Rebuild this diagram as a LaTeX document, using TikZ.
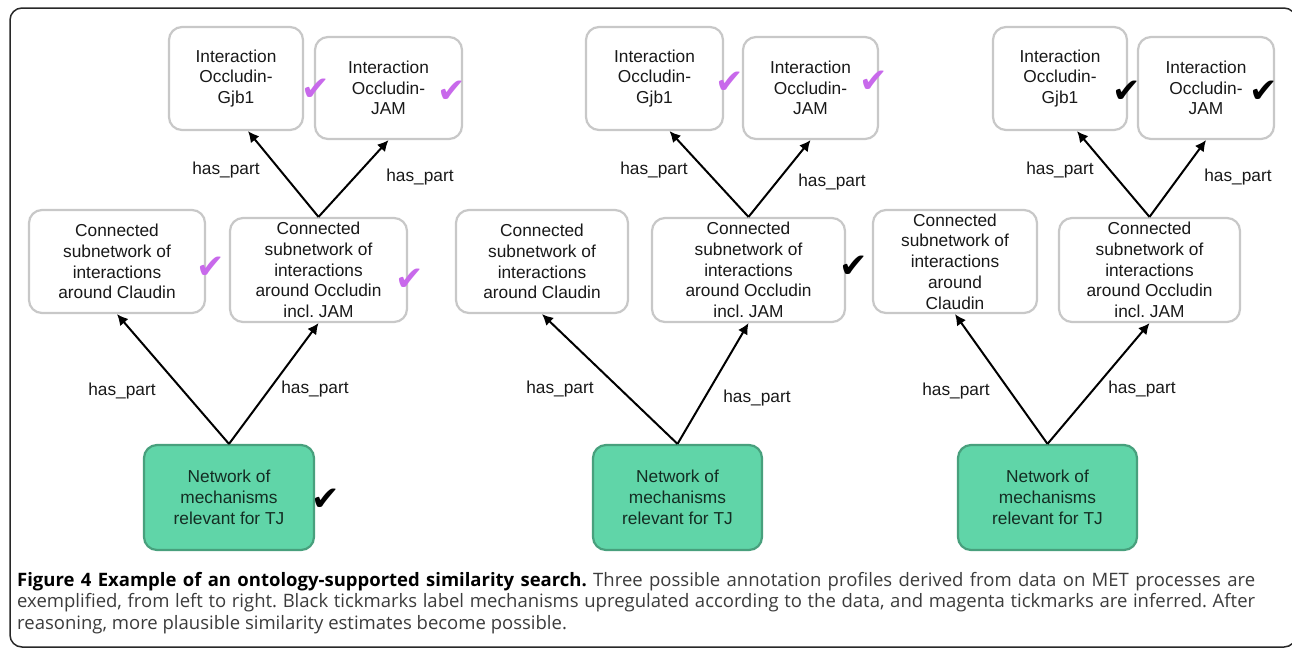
\documentclass[tikz,border=0pt]{standalone}
\usepackage{fontspec}
\setmainfont{Liberation Sans}
\newfontfamily\capfont{Open Sans}
\newfontfamily\tickfont{DejaVu Sans}
\usetikzlibrary{arrows.meta}
\definecolor{boxgray}{RGB}{200,200,200}
\definecolor{tjfill}{RGB}{96,213,168}
\definecolor{tjdraw}{RGB}{72,160,125}
\definecolor{tjtext}{RGB}{20,45,35}
\definecolor{tickmag}{RGB}{200,105,235}
\definecolor{txt}{RGB}{25,25,25}
\definecolor{captxt}{RGB}{60,60,60}
\definecolor{framecol}{RGB}{40,40,40}
\frenchspacing
\begin{document}
\begin{tikzpicture}[x=1pt,y=-1pt,
  every node/.style={inner sep=0pt},
  wbox/.style={draw=boxgray, line width=2.2pt, rounded corners=13pt, fill=white, align=center, text=txt, font=\fontsize{17.3}{20.8}\selectfont},
  gbox/.style={wbox, draw=tjdraw, fill=tjfill, text=tjtext},
  lbl/.style={text=txt, font=\fontsize{17.3}{20.8}\selectfont},
  arr/.style={line width=2pt, -{Latex[length=11pt,width=11pt]}},
  tickm/.style={text=tickmag, font=\tickfont\fontsize{34}{34}\selectfont},
  tickb/.style={tickm, text=black},
  capline/.style={anchor=base west, text=captxt, font=\capfont\fontsize{18.5}{21}\selectfont},
]
\useasboundingbox (0,0) rectangle (1292,649);
\fill[white] (0,0) rectangle (1292,649);
\draw[line width=1.5pt, draw=framecol, rounded corners=12pt] (10,8) rectangle (1296,647);

% ---------- panel 1 ----------
\node[wbox, minimum width=134pt, minimum height=103pt] (g1) at (236,78.5) {Interaction\\Occludin-\\Gjb1};
\node[wbox, minimum width=147pt, minimum height=102pt] (j1) at (388.5,88) {Interaction\\Occludin-\\JAM};
\node[wbox, minimum width=176pt, minimum height=103pt] (c1) at (117,261.5) {Connected\\subnetwork of\\interactions\\around Claudin};
\node[wbox, minimum width=177pt, minimum height=104pt] (o1) at (318.5,270) {Connected\\subnetwork of\\interactions\\around Occludin\\incl. JAM};
\node[gbox, minimum width=170pt, minimum height=105pt] (t1) at (229,497.5) {Network of\\mechanisms\\relevant for TJ};

\draw[arr] (t1.north) -- (c1.south);
\draw[arr] (t1.north) -- (o1.south);
\draw[arr] (o1.north) -- ([xshift=12pt]g1.south);
\draw[arr] (o1.north) -- (j1.south);

\node[lbl] (l1a) at (226,170) {has\_part};
\node[lbl] (l1b) at (420,177) {has\_part};
\node[lbl] (l1c) at (122,391) {has\_part};
\node[lbl] (l1d) at (315,389) {has\_part};

\node[tickm] (k1a) at (316,90) {✔};
\node[tickm] (k1b) at (452,92) {✔};
\node[tickm] (k1c) at (211,268) {✔};
\node[tickm] (k1d) at (410,280) {✔};
\node[tickb] (k1e) at (326,500) {✔};

% ---------- panel 2 ----------
\node[wbox, minimum width=137pt, minimum height=103pt] (g2) at (654.5,78.5) {Interaction\\Occludin-\\Gjb1};
\node[wbox, minimum width=135pt, minimum height=102pt] (j2) at (810.5,88) {Interaction\\Occludin-\\JAM};
\node[wbox, minimum width=172pt, minimum height=103pt] (c2) at (542,261.5) {Connected\\subnetwork of\\interactions\\around Claudin};
\node[wbox, minimum width=193pt, minimum height=104pt] (o2) at (748.5,270) {Connected\\subnetwork of\\interactions\\around Occludin\\incl. JAM};
\node[gbox, minimum width=169pt, minimum height=105pt] (t2) at (677.5,497.5) {Network of\\mechanisms\\relevant for TJ};

\draw[arr] (t2.north) -- (c2.south);
\draw[arr] (t2.north) -- (o2.south);
\draw[arr] (o2.north) -- ([xshift=15pt]g2.south);
\draw[arr] (o2.north) -- (j2.south);

\node[lbl] (l2a) at (654,170) {has\_part};
\node[lbl] (l2b) at (832,182) {has\_part};
\node[lbl] (l2c) at (560,389) {has\_part};
\node[lbl] (l2d) at (757,398) {has\_part};

\node[tickm] (k2a) at (730,83) {✔};
\node[tickm] (k2b) at (874,82) {✔};
\node[tickb] (k2c) at (854,267) {✔};

% ---------- panel 3 ----------
\node[wbox, minimum width=134pt, minimum height=103pt] (g3) at (1060,78.5) {Interaction\\Occludin-\\Gjb1};
\node[wbox, minimum width=136pt, minimum height=102pt] (j3) at (1206,88) {Interaction\\Occludin-\\JAM};
\node[wbox, minimum width=164pt, minimum height=103pt] (c3) at (955,261.5) {Connected\\subnetwork of\\interactions\\around\\Claudin};
\node[wbox, minimum width=181pt, minimum height=104pt] (o3) at (1149.5,270) {Connected\\subnetwork of\\interactions\\around Occludin\\incl. JAM};
\node[gbox, minimum width=179pt, minimum height=105pt] (t3) at (1047.5,497.5) {Network of\\mechanisms\\relevant for TJ};

\draw[arr] (t3.north) -- (c3.south);
\draw[arr] (t3.north) -- (o3.south);
\draw[arr] (o3.north) -- ([xshift=17pt]g3.south);
\draw[arr] (o3.north) -- (j3.south);

\node[lbl] (l3a) at (1060,170) {has\_part};
\node[lbl] (l3b) at (1238,177) {has\_part};
\node[lbl] (l3c) at (956,391) {has\_part};
\node[lbl] (l3d) at (1142,389) {has\_part};

\node[tickb] (k3a) at (1127,92) {✔};
\node[tickb] (k3b) at (1264,92) {✔};

% ---------- caption ----------
\node[capline] (cap1) at (17,586) {\makebox[1238pt][s]{\textcolor{black}{\bfseries Figure 4 Example of an ontology-supported similarity search.} Three possible annotation profiles derived from data on MET processes are}};
\node[capline] (cap2) at (17,607.5) {\makebox[1238pt][s]{exemplified, from left to right. Black tickmarks label mechanisms upregulated according to the data, and magenta tickmarks are inferred. After}};
\node[capline] (cap3) at (17,629) {reasoning, more plausible similarity estimates become possible.};
\end{tikzpicture}
\end{document}
